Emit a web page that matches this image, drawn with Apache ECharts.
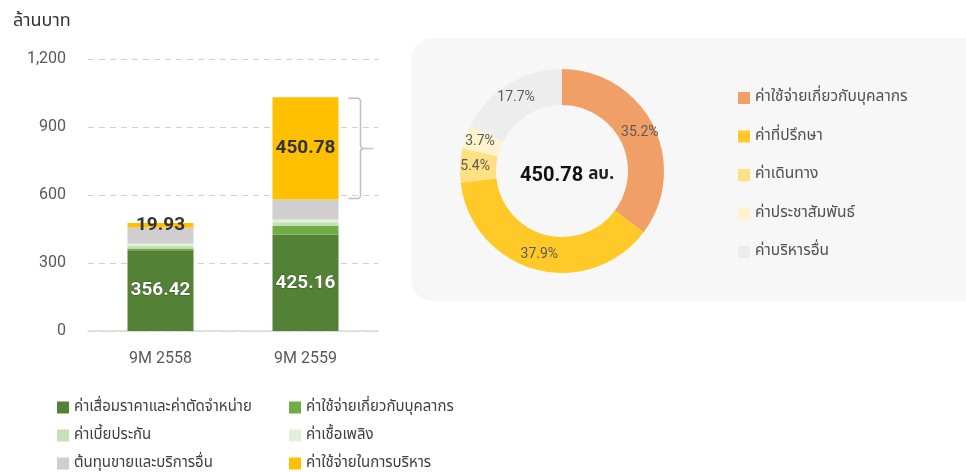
<!DOCTYPE html>
<html><head><meta charset="utf-8">
<script src="https://cdn.jsdelivr.net/npm/echarts@6/dist/echarts.min.js"></script>
<style>html,body{margin:0;padding:0;background:#fff}#c{width:966px;height:472px}</style>
</head><body><div id="c"></div>
<script>
const categories = ['9M 2558', '9M 2559'];
const barNames = ['ค่าเสื่อมราคาและค่าตัดจำหน่าย','ค่าใช้จ่ายเกี่ยวกับบุคลากร','ค่าเบี้ยประกัน','ค่าเชื้อเพลิง','ต้นทุนขายและบริการอื่น','ค่าใช้จ่ายในการบริหาร'];
const depreciation = [356.42, 425.16];
const personnel = [8, 38];
const insurance = [12, 17];
const fuel = [10, 12];
const otherCost = [70, 88];
const admin = [19.93, 450.78];
const yTicks = [0, 300, 600, 900, 1200];
const pieNames = ['ค่าใช้จ่ายเกี่ยวกับบุคลากร','ค่าที่ปรึกษา','ค่าเดินทาง','ค่าประชาสัมพันธ์','ค่าบริหารอื่น'];
const pieValues = [35.2, 37.9, 5.4, 3.7, 17.7];
const adminTotal = '450.78';

const barColors = ['#538135','#70AD47','#C5E0B4','#E2F0D9','#D0CECE','#FFC000'];
const pieColors = ['#F0A066','#FFCA28','#FFE083','#FFF2CC','#EDEDED'];
const barData = [depreciation, personnel, insurance, fuel, otherCost, admin];
const numFont = 'Roboto, "DejaVu Sans", sans-serif';
const thFont = '"Noto Sans Thai", "Noto Sans", Tahoma, sans-serif';

const chart = echarts.init(document.getElementById('c'));
const series = barData.map((d, i) => {
  const s = {
    name: barNames[i], type: 'bar', stack: 'a', barWidth: 66,
    itemStyle: { color: barColors[i] }, data: d
  };
  if (i === 0) {
    s.label = { show: true, position: 'inside', color: '#fff', fontWeight: 'bold', fontSize: 19, fontFamily: numFont, textBorderColor: 'rgba(0,0,0,0.35)', textBorderWidth: 1 };
  } else if (i === 5) {
    s.label = { show: true, position: 'inside', color: '#333', fontWeight: 'bold', fontSize: 19, fontFamily: numFont };
  }
  return s;
});
series.push({
  type: 'pie', name: 'admin', center: [562, 171], radius: [66, 102], startAngle: 90, clockwise: true,
  avoidLabelOverlap: false,
  label: { show: true, position: 'inside', formatter: p => p.value.toFixed(1) + '%', color: '#5a5a5a', fontSize: 14, fontFamily: numFont },
  labelLine: { show: false },
  emphasis: { disabled: true },
  data: pieNames.map((n, i) => ({ name: n, value: pieValues[i], itemStyle: { color: pieColors[i] } }))
});

const legendBase = { orient: 'vertical', itemWidth: 12, itemHeight: 12, itemGap: 13, icon: 'rect', padding: 0, height: 100,
  textStyle: { color: '#404040', fontSize: 15, lineHeight: 14, fontFamily: thFont }, selectedMode: false };

const bg = { type: 'rect', z: -10, shape: { x: 411, y: 38, width: 600, height: 263, r: 22 }, style: { fill: '#f7f7f7' } };

chart.setOption({
  animation: false,
  graphic: [bg],
  title: [
    { text: 'ล้านบาท', left: 8, top: 8, textStyle: { color: '#333', fontSize: 18, fontWeight: 'normal', fontFamily: thFont } },
    { text: '{a|' + adminTotal + '} {b|ลบ.}', left: 562, top: 171, textAlign: 'center', textVerticalAlign: 'middle',
      textStyle: { rich: { a: { fontSize: 20, fontWeight: 'bold', color: '#111', fontFamily: numFont }, b: { fontSize: 17, color: '#222', fontFamily: thFont } } } }
  ],
  legend: [
    Object.assign({}, legendBase, { left: 57, top: 400, data: [barNames[0], barNames[2], barNames[4]] }),
    Object.assign({}, legendBase, { left: 289, top: 400, data: [barNames[1], barNames[3], barNames[5]] }),
    Object.assign({}, legendBase, { left: 738, top: 90, itemGap: 22.5, height: 250, textStyle: { color: '#505050', fontSize: 15.5, lineHeight: 14, fontFamily: thFont },
      data: pieNames.map((n, i) => ({ name: n, itemStyle: { color: pieColors[i] } })) })
  ],
  grid: { left: 88, right: 588, top: 59, bottom: 141, containLabel: false },
  xAxis: { type: 'category', data: categories, axisTick: { show: false },
    axisLine: { lineStyle: { color: '#d9d9d9', width: 1.5 } },
    axisLabel: { color: '#595959', fontSize: 16, margin: 20, fontFamily: numFont } },
  yAxis: { type: 'value', min: yTicks[0], max: yTicks[yTicks.length - 1], interval: yTicks[1] - yTicks[0],
    axisLine: { show: false }, axisTick: { show: false },
    splitLine: { lineStyle: { color: '#d0d0d0', type: [6, 5] } },
    axisLabel: { color: '#595959', fontSize: 16, margin: 22, fontFamily: numFont, formatter: v => v.toLocaleString('en-US') } },
  series: series
});

// bracket beside the admin segment of the second bar
const base = depreciation[1] + personnel[1] + insurance[1] + fuel[1] + otherCost[1];
const topPt = chart.convertToPixel({ gridIndex: 0 }, [categories[1], base + admin[1]]);
const botPt = chart.convertToPixel({ gridIndex: 0 }, [categories[1], base]);
const xr = topPt[0] + 33 + 22;
const y1 = topPt[1] + 1, y2 = botPt[1] - 1, ym = (y1 + y2) / 2;
chart.setOption({ graphic: [
  bg,
  { type: 'polyline', shape: { points: [[xr - 12, y1], [xr - 2, y1], [xr, y1 + 2], [xr, ym - 2], [xr + 2, ym], [xr + 13, ym]] }, style: { stroke: '#bfbfbf', lineWidth: 1.5, fill: null } },
  { type: 'polyline', shape: { points: [[xr - 12, y2], [xr - 2, y2], [xr, y2 - 2], [xr, ym + 2], [xr + 2, ym]] }, style: { stroke: '#bfbfbf', lineWidth: 1.5, fill: null } }
] });
</script></body></html>
